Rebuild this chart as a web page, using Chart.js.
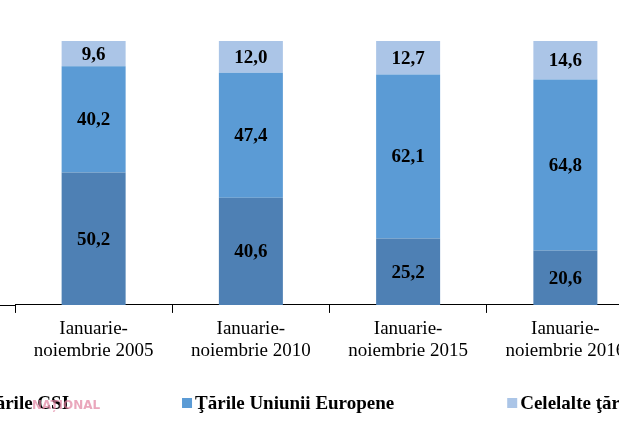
<!DOCTYPE html>
<html>
<head>
<meta charset="utf-8">
<script src="https://cdn.jsdelivr.net/npm/chart.js@4"></script>
<style>
    html, body { margin: 0; padding: 0; background: #fff; overflow: hidden; }
    #wrap { position: absolute; left: 0; top: 0; width: 680px; height: 421px; }
</style>
</head>
<body>
<div id="wrap"><canvas id="myBarChart"></canvas></div>
<script>
const categories = [
    ['Ianuarie-', 'noiembrie 2005'],
    ['Ianuarie-', 'noiembrie 2010'],
    ['Ianuarie-', 'noiembrie 2015'],
    ['Ianuarie-', 'noiembrie 2016']
];
const seriesNames = ['Ţările CSI', 'Ţările Uniunii Europene', 'Celelalte ţări'];
const csiValues = [50.2, 40.6, 25.2, 20.6];
const euValues = [40.2, 47.4, 62.1, 64.8];
const otherValues = [9.6, 12.0, 12.7, 14.6];
const colors = ['#4e80b4', '#5b9bd5', '#abc5e7'];

const serif = '"Liberation Serif", "Times New Roman", serif';

// value labels in the middle of each segment, comma as decimal sign
const segmentLabels = {
    id: 'segmentLabels',
    afterDatasetsDraw(chart) {
        const ctx = chart.ctx;
        ctx.save();
        ctx.font = 'bold 19px ' + serif;
        ctx.fillStyle = '#000';
        ctx.textAlign = 'center';
        ctx.textBaseline = 'middle';
        chart.data.datasets.forEach((ds, i) => {
            chart.getDatasetMeta(i).data.forEach((bar, j) => {
                const text = ds.data[j].toFixed(1).replace('.', ',');
                ctx.fillText(text, bar.x, (bar.y + bar.base) / 2 + 1);
            });
        });
        ctx.restore();
    }
};

// axis line runs on to the left edge, legend drawn in one row below
const extras = {
    id: 'extras',
    afterDraw(chart) {
        const ctx = chart.ctx;
        const area = chart.chartArea;
        const y = chart.scales.x.top;
        ctx.save();
        ctx.strokeStyle = '#000';
        ctx.lineWidth = 1;
        ctx.beginPath();
        ctx.moveTo(0, Math.round(y) + 0.5);
        ctx.lineTo(area.left, Math.round(y) + 0.5);
        ctx.stroke();

        ctx.font = 'bold 19px ' + serif;
        ctx.textBaseline = 'middle';
        ctx.textAlign = 'left';
        let x = area.left - 45;
        const ly = 403;
        chart.data.datasets.forEach(ds => {
            ctx.fillStyle = ds.backgroundColor;
            ctx.fillRect(x, ly - 5, 10, 10);
            ctx.fillStyle = '#000';
            ctx.fillText(ds.label, x + 13, ly + 1);
            x += 13 + ctx.measureText(ds.label).width + 113;
        });

        // faint site watermark
        ctx.font = 'bold 12px "DejaVu Sans", sans-serif';
        ctx.fillStyle = 'rgba(225, 130, 160, 0.7)';
        ctx.fillText('NAȚIONAL', 32, 406);
        ctx.restore();
    }
};

function createChart() {
    const ctx = document.getElementById('myBarChart').getContext('2d');
    new Chart(ctx, {
        type: 'bar',
        data: {
            labels: categories,
            datasets: [
                { label: seriesNames[0], data: csiValues, backgroundColor: colors[0] },
                { label: seriesNames[1], data: euValues, backgroundColor: colors[1] },
                { label: seriesNames[2], data: otherValues, backgroundColor: colors[2] }
            ]
        },
        options: {
            responsive: true,
            maintainAspectRatio: false,
            animation: false,
            categoryPercentage: 0.407,
            barPercentage: 1,
            layout: {
                padding: { top: 41, left: 15, right: 36, bottom: 54 }
            },
            scales: {
                x: {
                    stacked: true,
                    grid: {
                        display: true,
                        drawOnChartArea: false,
                        offset: true,
                        color: '#000',
                        tickLength: 8
                    },
                    border: { display: true, color: '#000', width: 1 },
                    ticks: {
                        color: '#000',
                        padding: 5,
                        maxRotation: 0,
                        autoSkip: false,
                        font: { family: serif, size: 19, lineHeight: 1.16 }
                    }
                },
                y: {
                    stacked: true,
                    display: false,
                    min: 0,
                    max: 100
                }
            },
            plugins: {
                legend: { display: false },
                tooltip: { enabled: false }
            }
        },
        plugins: [segmentLabels, extras]
    });
}

createChart();
</script>
</body>
</html>
